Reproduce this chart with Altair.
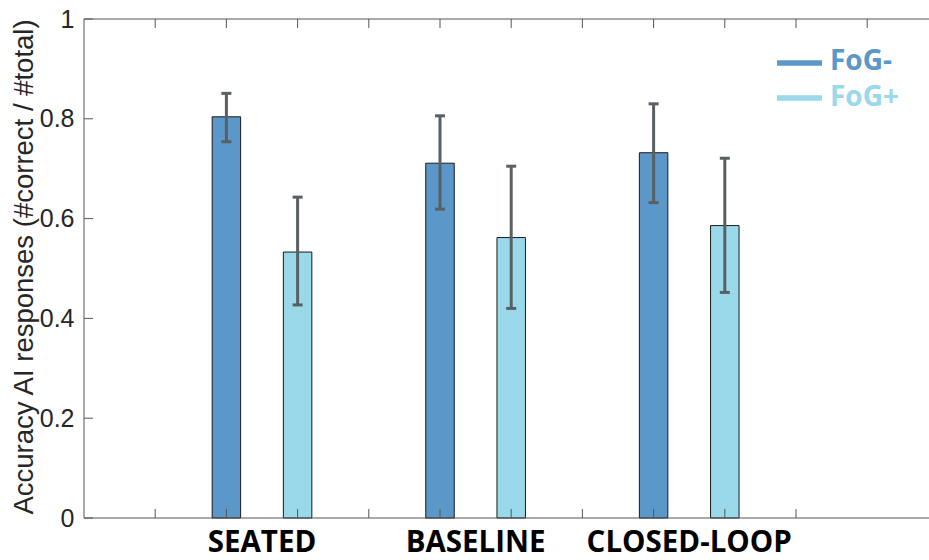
import altair as alt
import pandas as pd

# ---- data -------------------------------------------------------------
groups = ["SEATED", "BASELINE", "CLOSED-LOOP"]
series_names = ["FoG-", "FoG+"]

fog_minus_mean = [0.804, 0.711, 0.732]
fog_minus_low = [0.754, 0.619, 0.632]
fog_minus_high = [0.851, 0.806, 0.830]

fog_plus_mean = [0.533, 0.562, 0.586]
fog_plus_low = [0.427, 0.420, 0.452]
fog_plus_high = [0.643, 0.705, 0.721]

y_ticks = [0, 0.2, 0.4, 0.6, 0.8, 1]
bottom_ticks = list(range(1, 11))
top_ticks = list(range(1, 12))

# ---- styling / layout -------------------------------------------------
colors = ["#5b97c9", "#9ad9ea"]
ERR_COLOR = "#596064"
BOX_COLOR = "#555555"
PLOT_W, PLOT_H = 845, 499
UNIT = 71.2                      # pixels per x unit
X_MAX = PLOT_W / UNIT
BAR_HALF = 0.2
TICK_LEN = 9

rows = []
per_series = [
    (fog_minus_mean, fog_minus_low, fog_minus_high),
    (fog_plus_mean, fog_plus_low, fog_plus_high),
]
for gi, g in enumerate(groups):
    for si, s in enumerate(series_names):
        means, lows, highs = per_series[si]
        pos = 3 * gi + 2 + si
        rows.append(dict(group=g, series=s, pos=pos,
                         left=pos - BAR_HALF, right=pos + BAR_HALF,
                         mean=means[gi], low=lows[gi], high=highs[gi]))
bars_df = pd.DataFrame(rows)
labels_df = pd.DataFrame({"group": groups,
                          "center": [3 * gi + 2.5 for gi in range(len(groups))]})

x_scale = alt.Scale(domain=[0, X_MAX], nice=False, zero=False)
y_scale = alt.Scale(domain=[0, 1], nice=False)
y_axis = alt.Axis(values=y_ticks, format="~g", grid=False, domain=False,
                  ticks=False, labelPadding=10, labelFlush=False,
                  labelFont="Liberation Sans", labelFontSize=25,
                  labelColor="#262626",
                  title="Accuracy AI responses (#correct / #total)",
                  titleFont="Liberation Sans", titleFontSize=27.5,
                  titleFontWeight="normal", titleColor="#262626",
                  titleAngle=270, titleAlign="center",
                  titleBaseline="alphabetic",
                  titleX=-52, titleY=247.5)
color_enc = alt.Color("series:N", scale=alt.Scale(domain=series_names, range=colors),
                      legend=None)

base = alt.Chart(bars_df)

bars = base.mark_bar(stroke="#1a1a1a", strokeWidth=1).encode(
    x=alt.X("left:Q", scale=x_scale, axis=None),
    x2="right:Q",
    y=alt.Y("mean:Q", scale=y_scale, stack=None, axis=y_axis),
    y2=alt.datum(0),
    color=color_enc,
)

err_line = base.mark_rule(color=ERR_COLOR, strokeWidth=3).encode(
    x=alt.X("pos:Q", scale=x_scale, axis=None),
    y=alt.Y("low:Q", scale=y_scale, axis=y_axis),
    y2="high:Q",
)
cap_low = base.mark_tick(orient="horizontal", size=10, thickness=3,
                         color=ERR_COLOR, opacity=1).encode(
    x=alt.X("pos:Q", scale=x_scale, axis=None),
    y=alt.Y("low:Q", scale=y_scale, axis=y_axis),
)
cap_high = base.mark_tick(orient="horizontal", size=10, thickness=3,
                          color=ERR_COLOR, opacity=1).encode(
    x=alt.X("pos:Q", scale=x_scale, axis=None),
    y=alt.Y("high:Q", scale=y_scale, axis=y_axis),
)

# open box: left, top and bottom edges (the right edge lies beyond the page)
frame = alt.Chart(pd.DataFrame({"edge": ["left", "top", "bottom"]}))
frame_left = frame.transform_filter(alt.datum.edge == "left").mark_rule(
    color=BOX_COLOR, strokeWidth=1).encode(
    x=alt.value(0), y=alt.value(0), y2=alt.value(PLOT_H))
frame_top = frame.transform_filter(alt.datum.edge == "top").mark_rule(
    color=BOX_COLOR, strokeWidth=1).encode(
    x=alt.value(0), x2=alt.value(PLOT_W), y=alt.value(0))
frame_bottom = frame.transform_filter(alt.datum.edge == "bottom").mark_rule(
    color=BOX_COLOR, strokeWidth=1).encode(
    x=alt.value(0), x2=alt.value(PLOT_W), y=alt.value(PLOT_H))

# inward-pointing box ticks
bottom_tick_marks = alt.Chart(pd.DataFrame({"t": bottom_ticks})).mark_rule(
    color=BOX_COLOR, strokeWidth=1).encode(
    x=alt.X("t:Q", scale=x_scale, axis=None),
    y=alt.value(PLOT_H), y2=alt.value(PLOT_H - TICK_LEN),
)
top_tick_marks = alt.Chart(pd.DataFrame({"t": top_ticks})).mark_rule(
    color=BOX_COLOR, strokeWidth=1).encode(
    x=alt.X("t:Q", scale=x_scale, axis=None),
    y=alt.value(0), y2=alt.value(TICK_LEN),
)
left_tick_marks = alt.Chart(pd.DataFrame({"v": y_ticks})).mark_rule(
    color=BOX_COLOR, strokeWidth=1).encode(
    y=alt.Y("v:Q", scale=y_scale, axis=y_axis),
    x=alt.value(0), x2=alt.value(TICK_LEN),
)

group_labels = alt.Chart(labels_df).mark_text(
    font="Open Sans", fontSize=29.5, fontWeight="bold", color="black",
    baseline="alphabetic", align="center").encode(
    x=alt.X("center:Q", scale=x_scale, axis=None),
    y=alt.value(PLOT_H + 34),
    text="group:N",
)

# legend: coloured line + coloured bold label
legend_layers = []
for i, s in enumerate(series_names):
    entry = alt.Chart(pd.DataFrame({"series": [s]}))
    legend_layers.append(entry.mark_rule(strokeWidth=5.5).encode(
        x=alt.value(693), x2=alt.value(738), y=alt.value(44 + 35 * i),
        color=color_enc))
    legend_layers.append(entry.mark_text(
        font="Open Sans", fontSize=28, fontWeight="bold", align="left",
        baseline="alphabetic").encode(
        x=alt.value(746), y=alt.value(51 + 36 * i), text="series:N",
        color=color_enc))

chart = alt.layer(
    bars, err_line, cap_low, cap_high,
    frame_left, frame_top, frame_bottom,
    bottom_tick_marks, top_tick_marks, left_tick_marks,
    group_labels, *legend_layers,
).properties(
    width=PLOT_W, height=PLOT_H,
    autosize=alt.AutoSizeParams(type="none"),
    padding={"left": 84, "top": 19, "right": 0, "bottom": 42},
    background="white",
).configure_view(stroke="transparent", strokeWidth=0)

chart.save("out.html", embed_options={"renderer": "svg", "actions": False})
